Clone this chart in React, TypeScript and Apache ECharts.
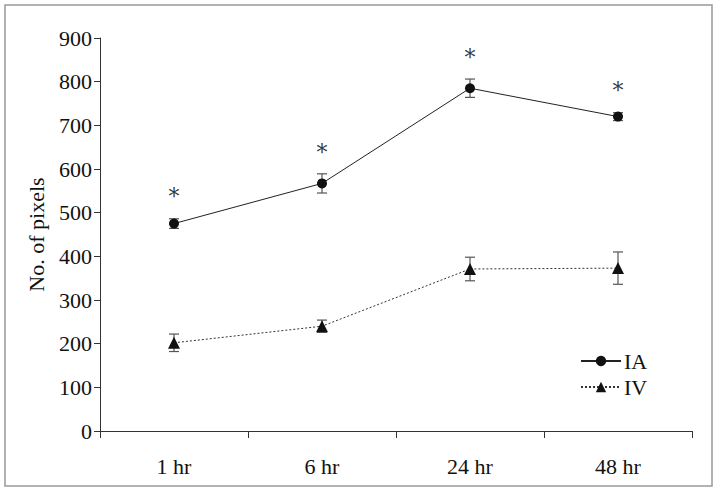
import React, { useEffect, useRef } from "react";
import * as echarts from "echarts";

const categories = ["1 hr", "6 hr", "24 hr", "48 hr"];
const iaMean = [475, 567, 785, 720];
const iaErr = [11, 22, 21, 9];
const ivMean = [202, 240, 371, 373];
const ivErr = [20, 14, 27, 37];
const starValues = [536, 637, 856, 780];
const yMin = 0;
const yMax = 900;
const yStep = 100;

const FONT = "'Liberation Serif', 'Times New Roman', serif";

function errorData(mean: number[], err: number[]) {
  return mean.map((m, i) => [i, m - err[i], m + err[i]]);
}

function errorRender(params: any, api: any) {
  const x = api.value(0);
  const lo = api.coord([x, api.value(1)]);
  const hi = api.coord([x, api.value(2)]);
  const hw = 5;
  const style = { stroke: "#555", lineWidth: 1.2, fill: "none" };
  return {
    type: "group",
    children: [
      { type: "line", shape: { x1: lo[0], y1: lo[1], x2: hi[0], y2: hi[1] }, style },
      { type: "line", shape: { x1: lo[0] - hw, y1: lo[1], x2: lo[0] + hw, y2: lo[1] }, style },
      { type: "line", shape: { x1: hi[0] - hw, y1: hi[1], x2: hi[0] + hw, y2: hi[1] }, style },
    ],
  };
}

export default function App() {
  const ref = useRef<HTMLDivElement>(null);
  useEffect(() => {
    if (!ref.current) return;
    const chart = echarts.init(ref.current, undefined, { renderer: "svg" });
    chart.setOption({
      animation: false,
      backgroundColor: "#fff",
      color: ["#111", "#111", "#111", "#111", "#111"],
      textStyle: { fontFamily: FONT },
      graphic: [
        {
          type: "rect",
          shape: { x: 5, y: 5, width: 707, height: 481 },
          style: { fill: "none", stroke: "#999", lineWidth: 1.5 },
          silent: true,
        },
      ],
      grid: { left: 100, right: 26, top: 38, bottom: 61 },
      legend: {
        orient: "vertical",
        left: 575,
        top: 345,
        itemWidth: 40,
        itemHeight: 13,
        itemGap: 4,
        data: ["IA", "IV"],
        textStyle: { fontFamily: FONT, fontSize: 22, color: "#111", padding: [0, 0, 0, -2] },
      },
      xAxis: {
        type: "category",
        data: categories,
        boundaryGap: true,
        axisLine: { lineStyle: { color: "#333", width: 1 } },
        axisTick: { show: true, length: 7, lineStyle: { color: "#333" } },
        axisLabel: { fontFamily: FONT, fontSize: 22, color: "#111", margin: 24 },
        splitLine: { show: false },
      },
      yAxis: {
        type: "value",
        min: yMin,
        max: yMax,
        interval: yStep,
        name: "No. of pixels",
        nameLocation: "middle",
        nameGap: 53,
        nameTextStyle: { fontFamily: FONT, fontSize: 22, color: "#111" },
        axisLine: { show: true, lineStyle: { color: "#333", width: 1 } },
        axisTick: { show: true, length: 6, lineStyle: { color: "#333" } },
        axisLabel: { fontFamily: FONT, fontSize: 22, color: "#111", margin: 8 },
        splitLine: { show: false },
      },
      series: [
        {
          type: "custom",
          name: "errIA",
          renderItem: errorRender,
          data: errorData(iaMean, iaErr),
          encode: { x: 0, y: [1, 2] },
          z: 1,
          silent: true,
        },
        {
          type: "custom",
          name: "errIV",
          renderItem: errorRender,
          data: errorData(ivMean, ivErr),
          encode: { x: 0, y: [1, 2] },
          z: 1,
          silent: true,
        },
        {
          type: "line",
          name: "IA",
          data: iaMean,
          symbol: "circle",
          symbolSize: 10,
          itemStyle: { color: "#111" },
          lineStyle: { color: "#222", width: 1 },
          z: 3,
        },
        {
          type: "line",
          name: "IV",
          data: ivMean,
          symbol: "triangle",
          symbolSize: 12,
          itemStyle: { color: "#111" },
          lineStyle: { color: "#333", width: 1, type: [2, 2] },
          z: 3,
        },
        {
          type: "scatter",
          name: "stars",
          data: starValues.map((v, i) => [i, v]),
          symbol: "circle",
          symbolSize: 0,
          itemStyle: { color: "#000" },
          label: {
            show: true,
            position: "inside",
            formatter: "*",
            color: "#000",
            textBorderWidth: 0,
            fontSize: 22,
            fontFamily: "'DejaVu Serif'",
          },
          z: 4,
          silent: true,
        },
      ],
    });
    return () => chart.dispose();
  }, []);
  return (
    <div
      ref={ref}
      style={{ position: "absolute", left: 0, top: 0, width: 718, height: 492 }}
    />
  );
}
